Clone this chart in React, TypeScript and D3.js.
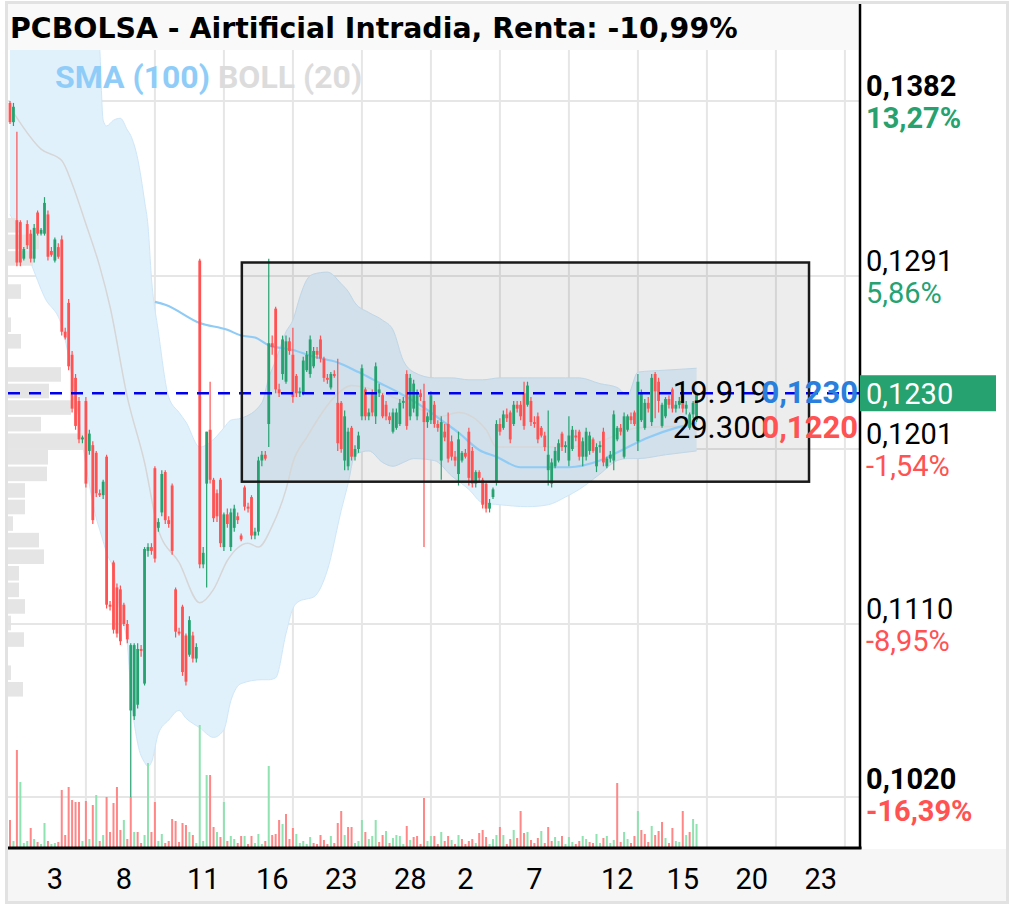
import React from "react";
import * as d3 from "d3";

// prices are stored in units of 0.0001
const PU = 10000;

// [open, high, low, close]
const candles: [number, number, number, number][] = [
  [1381,1382,1370,1371],[1371,1381,1369,1379],[1320,1366,1296,1298],[1319,1320,1296,1298],[1300,1306,1299,1305],
  [1318,1320,1305,1307],[1313,1315,1298,1300],[1300,1318,1298,1316],[1324,1325,1312,1313],[1313,1316,1312,1315],
  [1313,1332,1312,1329],[1323,1325,1299,1301],[1304,1306,1301,1302],[1299,1311,1298,1310],[1306,1308,1300,1301],
  [1310,1312,1260,1262],[1262,1264,1258,1259],[1277,1279,1242,1244],[1250,1252,1220,1222],[1238,1240,1211,1213],
  [1226,1228,1204,1206],[1206,1208,1204,1207],[1226,1228,1181,1183],[1200,1211,1198,1209],[1203,1205,1162,1164],
  [1199,1200,1176,1178],[1178,1180,1176,1177],[1177,1185,1175,1184],[1197,1198,1118,1120],[1120,1122,1117,1119],
  [1142,1143,1105,1107],[1129,1131,1103,1105],[1128,1130,1099,1101],[1120,1121,1109,1110],[1110,1112,1100,1102],
  [1065,1100,1020,1099],[1062,1100,1060,1099],[1068,1100,1066,1097],[1097,1099,1093,1096],[1079,1150,1078,1149],
  [1148,1152,1145,1150],[1150,1152,1146,1148],[1191,1192,1142,1144],[1160,1165,1158,1163],[1168,1190,1166,1188],
  [1189,1190,1162,1164],[1164,1166,1160,1162],[1182,1183,1146,1148],[1128,1129,1103,1106],[1106,1108,1104,1105],
  [1119,1120,1083,1085],[1104,1105,1078,1080],[1094,1114,1093,1112],[1104,1106,1090,1092],[1092,1100,1090,1098],
  [1299,1300,1139,1141],[1141,1150,1139,1147],[1183,1210,1129,1210],[1211,1236,1183,1185],[1185,1186,1163,1165],
  [1178,1180,1163,1166],[1185,1186,1150,1152],[1150,1168,1148,1167],[1167,1170,1160,1162],[1150,1170,1148,1168],
  [1160,1172,1158,1170],[1166,1168,1162,1164],[1156,1157,1153,1154],[1181,1182,1169,1171],[1171,1173,1168,1170],
  [1176,1177,1154,1156],[1156,1160,1154,1158],[1158,1197,1156,1195],[1195,1200,1192,1198],[1198,1200,1195,1196],
  [1214,1300,1202,1256],[1256,1260,1250,1254],[1274,1275,1230,1232],[1232,1235,1228,1230],[1240,1260,1237,1258],
  [1236,1260,1235,1257],[1257,1259,1250,1252],[1250,1264,1225,1228],[1239,1240,1228,1230],[1230,1233,1228,1231],
  [1230,1249,1229,1247],[1242,1252,1241,1250],[1240,1260,1238,1258],[1244,1254,1243,1252],[1252,1254,1248,1250],
  [1258,1260,1246,1248],[1248,1249,1236,1238],[1238,1240,1235,1237],[1233,1241,1232,1240],[1240,1242,1238,1239],
  [1225,1248,1200,1204],[1225,1226,1199,1201],[1195,1221,1190,1218],[1192,1212,1190,1210],[1212,1213,1195,1197],
  [1197,1203,1195,1201],[1201,1210,1199,1208],[1218,1245,1216,1243],[1232,1233,1216,1218],[1218,1222,1216,1220],
  [1230,1232,1218,1220],[1218,1246,1214,1244],[1230,1235,1228,1232],[1229,1230,1217,1218],[1224,1226,1216,1218],
  [1218,1220,1214,1216],[1210,1222,1209,1220],[1212,1222,1211,1220],[1214,1227,1213,1225],[1225,1228,1222,1226],
  [1240,1242,1211,1213],[1218,1240,1216,1238],[1222,1237,1220,1235],[1218,1232,1216,1230],[1230,1232,1226,1228],
  [1226,1235,1150,1215],[1215,1220,1212,1218],[1216,1231,1214,1229],[1224,1226,1212,1214],[1214,1216,1210,1212],
  [1195,1218,1185,1215],[1210,1214,1205,1207],[1214,1220,1194,1196],[1205,1208,1195,1197],[1197,1200,1192,1195],
  [1188,1210,1182,1206],[1195,1200,1194,1199],[1199,1201,1196,1197],[1210,1212,1182,1186],[1200,1202,1181,1183],
  [1183,1190,1181,1189],[1189,1190,1184,1186],[1185,1186,1170,1172],[1183,1184,1168,1170],[1170,1175,1168,1173],
  [1176,1181,1175,1180],[1184,1216,1182,1214],[1214,1217,1208,1210],[1212,1221,1211,1219],[1219,1222,1215,1217],
  [1220,1221,1204,1206],[1214,1226,1213,1224],[1224,1226,1220,1222],[1224,1226,1216,1218],[1230,1236,1211,1213],
  [1224,1236,1223,1234],[1226,1228,1213,1215],[1215,1218,1212,1214],[1218,1220,1204,1206],[1212,1213,1207,1208],
  [1208,1210,1200,1202],[1190,1221,1182,1198],[1183,1196,1181,1194],[1192,1202,1191,1200],[1195,1206,1194,1204],
  [1209,1210,1200,1202],[1202,1205,1199,1203],[1195,1218,1192,1208],[1201,1213,1200,1211],[1208,1211,1205,1207],
  [1210,1211,1195,1197],[1197,1207,1192,1205],[1197,1212,1195,1210],[1200,1210,1198,1208],[1206,1207,1199,1200],
  [1192,1204,1189,1202],[1202,1205,1199,1203],[1210,1212,1192,1194],[1192,1197,1191,1196],[1196,1200,1194,1198],
  [1195,1221,1190,1219],[1206,1213,1205,1212],[1212,1214,1208,1210],[1197,1220,1196,1218],[1211,1219,1210,1218],
  [1218,1220,1214,1216],[1220,1221,1213,1214],[1205,1240,1200,1236],[1216,1232,1215,1230],[1212,1227,1211,1225],
  [1225,1228,1220,1222],[1215,1240,1213,1238],[1240,1241,1217,1231],[1236,1238,1220,1226],[1213,1225,1212,1224],
  [1218,1228,1217,1227],[1227,1229,1222,1224],[1232,1233,1220,1222],[1222,1226,1220,1224],[1224,1228,1222,1226],
  [1230,1231,1220,1222],[1222,1226,1219,1224],[1212,1220,1211,1219],[1219,1226,1217,1225],[1216,1230,1215,1230],
];

// volume per candle (thousands)
const volumes: number[] = [
  270,60,970,650,40,60,190,80,50,30,240,60,30,40,50,570,120,600,470,450,
  450,60,460,80,420,520,60,120,500,150,440,600,170,270,80,500,150,150,40,120,
  840,150,450,60,130,40,60,280,260,50,240,220,150,120,40,1220,60,720,720,200,
  150,100,450,60,110,80,40,110,110,30,110,40,130,30,60,810,120,130,270,230,
  330,80,190,130,40,60,30,100,40,30,120,70,30,110,40,240,360,120,200,200,
  40,60,270,150,80,110,270,50,120,160,40,90,120,110,30,210,70,100,110,30,
  490,60,110,110,30,150,60,110,70,30,120,80,30,60,80,40,140,170,100,30,
  80,120,200,120,30,80,170,90,360,140,150,70,40,90,160,40,200,60,100,60,
  110,30,100,50,30,60,110,80,50,40,130,40,90,110,40,70,640,50,150,80,
  40,110,360,170,130,50,210,120,160,250,90,40,190,60,50,360,120,150,280,230,
];

// Bollinger (20): [candle index, upper, lower]
const bollBand: [number, number, number][] = [
  [0,1437,1323],[3,1436,1312],[6,1432,1298],[10,1434,1280],[15,1437,1265],[19,1442,1228],
  [22,1443,1193],[25,1440,1165],[26,1410,1159],[27,1372,1153],[28,1369,1147],[30,1372,1138],
  [32,1373,1115],[34,1367,1100],[35,1364,1075],[37,1352,1048],[39,1330,1038],[40,1317,1036],
  [41,1290,1038],[43,1262,1053],[46,1228,1060],[49,1220,1065],[51,1215,1061],[55,1202,1056],
  [59,1206,1051],[62,1212,1055],[64,1216,1070],[67,1217,1079],[73,1225,1081],[75,1238,1081],
  [77,1247,1082],[80,1262,1105],[82,1268,1118],[84,1280,1122],[86,1289,1123],[88,1292,1124],
  [92,1293,1138],[96,1287,1169],[98,1283,1183],[100,1277,1198],[104,1272,1200],[108,1268,1194],
  [111,1263,1192],[114,1247,1194],[117,1241,1196],[123,1238,1195],[128,1238,1187],[133,1237,1180],
  [137,1237,1173],[142,1238,1172],[150,1238,1171],[156,1238,1172],[161,1238,1176],[165,1238,1180],
  [171,1235,1188],[176,1233,1195],[179,1229,1196],[182,1241,1196],[190,1242,1198],[199,1243,1200],
];

// Bollinger middle line: [candle index, value]
const bollMid: [number, number][] = [
  [1,1376],[9,1357],[15,1351],[18,1339],[22,1318],[26,1296],[29,1275],[34,1228],[39,1194],
  [43,1159],[49,1142],[55,1121],[59,1128],[63,1143],[69,1152],[72,1150],[76,1161],[80,1180],
  [82,1194],[86,1207],[94,1228],[99,1234],[103,1233],[111,1228],[120,1221],[125,1218],[130,1220],
  [138,1211],[141,1202],[162,1202],[171,1205],[182,1212],[199,1213],
];

// SMA (100): [candle index, value]
const sma100: [number, number][] = [
  [42,1277.5],[45,1276],[55,1266.5],[63,1263],[67,1260],[71,1259],[75,1255],[82,1252.5],[88,1249],
  [95,1246],[101,1241],[107,1235.5],[113,1230],[120,1222.5],[125,1216],[130,1209.5],[136,1200.5],
  [141,1197],[148,1191.5],[162,1191.5],[171,1195],[178,1201],[185,1207],[193,1212],[199,1214.5],
];

// volume profile, 42 price bins from the max down to the min
const profile: number[] = [
  0,0,0,0,0,0,0,8,31,25,0,13,0,3,13,0,53,41,63,33,75,40,39,17,17,5,31,36,11,11,17,3,16,0,3,15,0,0,0,0,0,0,
];

const priceMax = 1382;
const priceMin = 1020;
const priceTicks = [1382, 1291, 1201, 1110, 1020];
const priceTickLabels = ["0,1382", "0,1291", "0,1201", "0,1110", "0,1020"];
const pctLabels = ["13,27%", "5,86%", "-1,54%", "-8,95%", "-16,39%"];
const pctUp = [true, true, false, false, false];

const xTicks: [number, string][] = [
  [13, "3"], [33, "8"], [56, "11"], [76, "16"], [96, "23"], [116, "28"],
  [132, "2"], [152, "7"], [176, "12"], [195, "15"], [215, "20"], [235, "23"],
];

const lastPrice = 1230;
const lastPriceLabel = "0,1230";
const bookRows: [string, string, string][] = [
  ["19.919", "0,1230", "#2a7fdc"],
  ["29.300", "0,1220", "#ff5252"],
];

// drawn rectangle: [index from, index to, price top, price bottom]
const drawnBox: [number, number, number, number] = [67.2, 231.6, 1298, 1184];

const title = "PCBOLSA - Airtificial Intradia, Renta: -10,99%";

const GREEN = "#26a270";
const RED = "#ff5252";
const VGREEN = "#8ee3b0";
const VRED = "#ff8787";
const FONT = "Roboto, sans-serif";

export default function App() {
  const plotL = 8, plotR = 860, plotT = 50, plotB = 848;
  const x = d3.scaleLinear().domain([0, 242]).range([10, 844.9]);
  const y = d3.scaleLinear().domain([priceMin / PU, priceMax / PU]).range([797, 101]);
  const py = (v: number) => y(v / PU);
  const vScale = d3.scaleLinear().domain([0, 1300]).range([0, 130]);
  const pScale = d3.scaleLinear().domain([0, 100]).range([0, 100]);

  const area = d3
    .area<[number, number, number]>()
    .x((d) => x(d[0]))
    .y0((d) => py(d[2]))
    .y1((d) => py(d[1]))
    .curve(d3.curveMonotoneX);
  const upperLine = d3.line<[number, number, number]>().x((d) => x(d[0])).y((d) => py(d[1])).curve(d3.curveMonotoneX);
  const lowerLine = d3.line<[number, number, number]>().x((d) => x(d[0])).y((d) => py(d[2])).curve(d3.curveMonotoneX);
  const line = d3.line<[number, number]>().x((d) => x(d[0])).y((d) => py(d[1])).curve(d3.curveMonotoneX);

  const gridX = d3.range(22, 243, 20);
  const binStep = (priceMax - priceMin) / profile.length;
  const lastY = py(lastPrice);

  return (
    <svg width={1013} height={908} style={{ position: "absolute", left: 0, top: 0, background: "#fff" }} fontFamily={FONT}>
      <defs>
        <clipPath id="plot">
          <rect x={plotL} y={plotT} width={plotR - plotL} height={plotB - plotT} />
        </clipPath>
      </defs>
      {/* frame */}
      <rect x={6.5} y={2.5} width={1001} height={900} fill="#fff" stroke="#e2e2e2" strokeWidth={3} />
      <rect x={8} y={4} width={850} height={46} fill="#f9f9f9" />
      <rect x={8} y={849} width={998} height={52} fill="#f6f6f6" />
      <text x={10} y={38} fontSize={28.4} fontWeight="bold" fill="#000" fontFamily="'DejaVu Sans', sans-serif">{title}</text>

      <g clipPath="url(#plot)">
        {/* grid */}
        {gridX.map((g) => (
          <line key={"gx" + g} x1={x(g)} x2={x(g)} y1={plotT} y2={plotB} stroke="#e6e6e6" strokeWidth={2} />
        ))}
        {priceTicks.map((t) => (
          <line key={"gy" + t} x1={plotL} x2={plotR} y1={py(t)} y2={py(t)} stroke="#e6e6e6" strokeWidth={2} />
        ))}
        {/* bollinger band */}
        <path d={area(bollBand) || ""} fill="#e1f1fc" />
        <path d={upperLine(bollBand) || ""} fill="none" stroke="#cfe7f8" strokeWidth={1} />
        <path d={lowerLine(bollBand) || ""} fill="none" stroke="#cfe7f8" strokeWidth={1} />
        {/* drawn rectangle fill */}
        <rect
          x={x(drawnBox[0])}
          y={py(drawnBox[2])}
          width={x(drawnBox[1]) - x(drawnBox[0])}
          height={py(drawnBox[3]) - py(drawnBox[2])}
          fill="rgba(0,0,0,0.07)"
        />
        {/* volume profile */}
        {profile.map((v, k) =>
          v > 0 ? (
            <rect
              key={"vp" + k}
              x={plotL}
              y={py(priceMax - k * binStep) + 1}
              width={pScale(v)}
              height={py(priceMax - (k + 1) * binStep) - py(priceMax - k * binStep) - 2}
              fill="#e2e2e2"
              opacity={0.9}
            />
          ) : null
        )}
        <path d={line(bollMid) || ""} fill="none" stroke="#d6d6d6" strokeWidth={1.5} />
        <path d={line(sma100) || ""} fill="none" stroke="#90cbf5" strokeWidth={2.2} />
        {/* volume bars */}
        {volumes.map((v, i) => {
          const up = i === 0 ? candles[i][3] >= candles[i][0] : candles[i][3] >= candles[i - 1][3];
          return (
            <rect key={"v" + i} x={x(i) - 1} y={847 - vScale(v)} width={2} height={vScale(v)} fill={up ? VGREEN : VRED} />
          );
        })}
        {/* candles */}
        {candles.map(([o, h, l, c], i) => {
          const up = c >= o;
          const col = up ? GREEN : RED;
          const top = py(Math.max(o, c));
          const bot = py(Math.min(o, c));
          return (
            <g key={"c" + i}>
              <line x1={x(i)} x2={x(i)} y1={py(h)} y2={py(l)} stroke={col} strokeWidth={1.2} />
              <rect x={x(i) - 1.4} y={top} width={2.8} height={Math.max(1, bot - top)} fill={col} />
            </g>
          );
        })}
        {/* last price dashed line */}
        <line x1={plotL} x2={plotR} y1={lastY} y2={lastY} stroke="#0000ee" strokeWidth={2.5} strokeDasharray="12 9" />
        {/* drawn rectangle outline */}
        <rect
          x={x(drawnBox[0])}
          y={py(drawnBox[2])}
          width={x(drawnBox[1]) - x(drawnBox[0])}
          height={py(drawnBox[3]) - py(drawnBox[2])}
          fill="none"
          stroke="#1a1a1a"
          strokeWidth={2.5}
        />
      </g>

      {/* legend */}
      <text x={55} y={88} fontSize={32} fontWeight="bold">
        <tspan fill="#8fcdf8">SMA (100)</tspan>
        <tspan fill="#dcdcdc">{" BOLL (20)"}</tspan>
      </text>

      {/* order book rows */}
      {bookRows.map(([vol, pr, col], r) => (
        <g key={"b" + r}>
          <text x={768} y={lastY + 10 + r * 35} fontSize={31} textAnchor="end" fill="#000">{vol}</text>
          <text x={858} y={lastY + 10 + r * 35} fontSize={31} fontWeight="bold" textAnchor="end" fill={col}>{pr}</text>
        </g>
      ))}

      {/* axes */}
      <line x1={plotL} x2={861.5} y1={848} y2={848} stroke="#000" strokeWidth={3} />
      <line x1={860} x2={860} y1={4} y2={849} stroke="#000" strokeWidth={2.5} />

      {priceTicks.map((t, k) => {
        const bold = k === 0 || k === priceTicks.length - 1;
        const pb = Math.min(py(t) + 27, 821);
        return (
          <g key={"pt" + k}>
            <text x={866} y={pb - 32} fontSize={29} fontWeight={bold ? "bold" : "normal"} fill="#000">{priceTickLabels[k]}</text>
            <text x={866} y={pb} fontSize={29} fontWeight={bold ? "bold" : "normal"} fill={pctUp[k] ? GREEN : RED}>{pctLabels[k]}</text>
          </g>
        );
      })}
      <rect x={860} y={lastY - 18} width={136} height={36} fill={GREEN} />
      <text x={866} y={lastY + 11} fontSize={29} fill="#fff">{lastPriceLabel}</text>

      {xTicks.map(([i, lab], k) => (
        <text key={"xt" + k} x={x(i)} y={889} fontSize={29} textAnchor="middle" fill="#000">{lab}</text>
      ))}
    </svg>
  );
}
